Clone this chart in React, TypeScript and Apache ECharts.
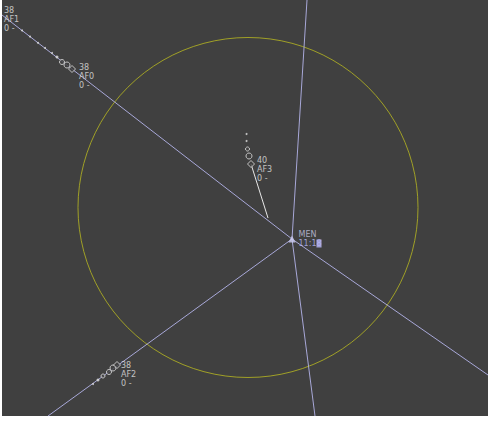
import React, { useEffect, useRef } from "react";
import * as echarts from "echarts";

// Coordinates: offsets from the MEN fix (x east, y north), display units.
const fixName = "MEN";
const fixTime = "11:1";
const fixCursor = "8";

// Radials from the fix (end points)
const radials: [number, number][] = [
  [-290, 224],
  [196, -136],
  [15, 239],
  [23, -177],
  [-244, -177],
];

// Range ring
const ringCenter: [number, number] = [-44, 31.5];
const ringDiameter = 340;

// Aircraft
const callsigns = ["AF1", "AF0", "AF3", "AF2"];
const flightLevels = ["38", "38", "40", "38"];
const speeds = ["0 -", "0 -", "0 -", "0 -"];
const tagAnchors: [number, number][] = [
  [-288, 220],
  [-213, 163],
  [-35, 70],
  [-171, -135],
];
const positions: [number, number][] = [
  [-296, 219],
  [-220, 170],
  [-41, 75],
  [-175, -126],
];
const trailAF1: [number, number][] = [
  [-270, 208.5],
  [-262, 202.4],
  [-254, 196.2],
  [-247, 191],
];
const trailAF0: [number, number][] = [
  [-240, 186],
  [-235, 182],
  [-230, 177],
  [-225, 174],
];
const trailAF3: [number, number][] = [
  [-45.5, 105],
  [-45.5, 98],
  [-44.5, 90],
  [-43, 83],
];
const trailAF2: [number, number][] = [
  [-199, -145],
  [-194, -141],
  [-189, -137],
  [-183, -133],
  [-179, -129],
];
const leaderAF3: [number, number][] = [
  [-41, 75],
  [-24, 21],
];

const BG = "#404040";
const LINE = "#a8a8d8";
const TEXT = "#e4e4e4";
const FONT = "DejaVu Sans";

export default function App() {
  const ref = useRef<HTMLDivElement>(null);
  useEffect(() => {
    if (!ref.current) return;
    const chart = echarts.init(ref.current, undefined, { renderer: "svg" });

    const trailSeries = (pts: [number, number][], sizes: number[]) => ({
      type: "scatter",
      data: pts.map((p, i) => {
        const s = sizes[i];
        return {
          value: p,
          symbolSize: s,
          itemStyle:
            s <= 3
              ? { color: TEXT, borderWidth: 0 }
              : { color: BG, borderColor: TEXT, borderWidth: 1 },
        };
      }),
      symbol: "circle",
      silent: true,
      z: 5,
    });

    const series: any[] = [];
    radials.forEach((end) => {
      series.push({
        type: "line",
        data: [[0, 0], end],
        symbol: "none",
        lineStyle: { color: LINE, width: 1 },
        silent: true,
        z: 2,
      });
    });
    series.push({
      type: "scatter",
      data: [ringCenter],
      symbol: "circle",
      symbolSize: ringDiameter,
      itemStyle: { color: "rgba(0,0,0,0)", borderColor: "#b8b820", borderWidth: 1 },
      silent: true,
      z: 1,
    });
    series.push({
      type: "line",
      data: leaderAF3,
      symbol: "none",
      lineStyle: { color: "#e8e8e8", width: 1 },
      silent: true,
      z: 3,
    });
    series.push(trailSeries(trailAF1, [2, 2, 2, 2]));
    series.push(trailSeries(trailAF0, [2, 3, 5, 6]));
    series.push(trailSeries(trailAF3, [2, 2, 4, 6]));
    series.push(trailSeries(trailAF2, [2, 3, 4, 5, 6]));
    series.push({
      type: "scatter",
      data: positions,
      symbol: "diamond",
      symbolSize: 7,
      itemStyle: { color: BG, borderColor: TEXT, borderWidth: 1 },
      silent: true,
      z: 6,
    });
    series.push({
      type: "scatter",
      data: tagAnchors.map((p, i) => ({ value: p, name: callsigns[i] })),
      symbolSize: 0,
      clip: false,
      silent: true,
      z: 7,
      label: {
        show: true,
        position: "right",
        distance: 0,
        align: "left",
        verticalAlign: "middle",
        color: TEXT,
        fontFamily: FONT,
        fontSize: 8,
        lineHeight: 9,
        formatter: (p: any) =>
          `${flightLevels[p.dataIndex]}\n${callsigns[p.dataIndex]}\n${speeds[p.dataIndex]}`,
      },
    });
    series.push({
      type: "scatter",
      data: [[0, 0]],
      symbol: "triangle",
      symbolSize: 7,
      itemStyle: { color: "#d0d0f4" },
      silent: true,
      z: 8,
      label: {
        show: true,
        position: "right",
        distance: 3,
        align: "left",
        verticalAlign: "middle",
        fontFamily: FONT,
        fontSize: 8,
        lineHeight: 9,
        formatter: `{n|${fixName}}\n{t|${fixTime}}{c|${fixCursor}}`,
        rich: {
          n: { color: "#c8c8e4", fontFamily: FONT, fontSize: 8, lineHeight: 9 },
          t: { color: "#b8b8f8", fontFamily: FONT, fontSize: 8, lineHeight: 9 },
          c: {
            color: "#b8b8f8",
            backgroundColor: "#b8b8f8",
            fontFamily: FONT,
            fontSize: 8,
            lineHeight: 9,
          },
        },
      },
    });

    chart.setOption({
      animation: false,
      backgroundColor: "#ffffff",
      grid: {
        left: 2,
        top: 0,
        width: 486,
        height: 416,
        show: true,
        backgroundColor: BG,
        borderWidth: 0,
      },
      xAxis: { type: "value", min: -290, max: 196, show: false },
      yAxis: { type: "value", min: -177, max: 239, show: false },
      series,
    });
    return () => chart.dispose();
  }, []);

  return (
    <div
      ref={ref}
      style={{ position: "fixed", left: 0, top: 0, width: 488, height: 424 }}
    />
  );
}
